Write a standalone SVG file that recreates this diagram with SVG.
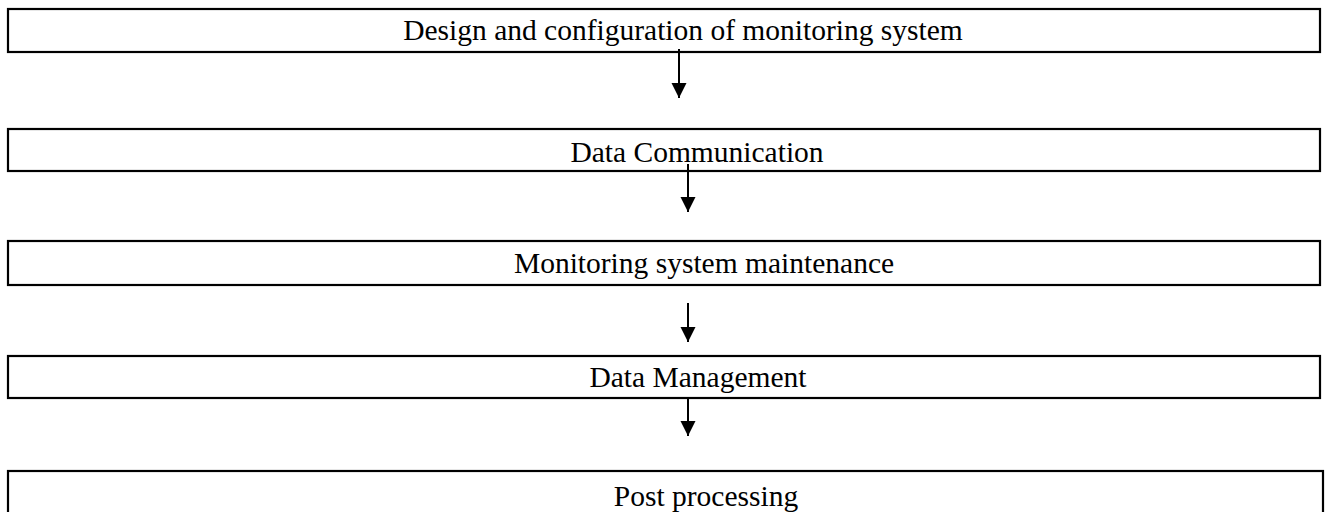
<svg xmlns="http://www.w3.org/2000/svg" width="1325" height="512" viewBox="0 0 1325 512">
<style>
.box{fill:#fff;stroke:#000;stroke-width:2.2}
.lbl{font-family:"Liberation Serif","Times New Roman",serif;font-size:29.5px;fill:#000;text-anchor:middle}
.conn{stroke:#000;stroke-width:2;fill:none;marker-end:url(#ah)}
</style>
<defs>
<marker id="ah" markerUnits="userSpaceOnUse" markerWidth="16" markerHeight="16" viewBox="0 0 16 16" refX="15" refY="8" orient="auto">
<path d="M0,0.5 L15,8 L0,15.5 Z" fill="#000"/>
</marker>
</defs>
<rect width="1325" height="512" fill="#fff"/>
<g id="node1"><rect class="box" x="8" y="9" width="1312" height="43"/><text class="lbl" x="683" y="40">Design and configuration of monitoring system</text></g>
<g id="node2"><rect class="box" x="8" y="129" width="1312" height="42"/><text class="lbl" x="697" y="161.5">Data Communication</text></g>
<g id="node3"><rect class="box" x="8" y="241" width="1312" height="44"/><text class="lbl" x="704" y="273">Monitoring system maintenance</text></g>
<g id="node4"><rect class="box" x="8" y="356" width="1312" height="42"/><text class="lbl" x="698" y="386.5">Data Management</text></g>
<g id="node5"><rect class="box" x="8" y="471" width="1315" height="50"/><text class="lbl" x="706" y="506">Post processing</text></g>
<g id="connectors">
<line class="conn" x1="679" y1="49" x2="679" y2="98"/>
<line class="conn" x1="688" y1="164" x2="688" y2="212"/>
<line class="conn" x1="688" y1="303" x2="688" y2="342"/>
<line class="conn" x1="688" y1="398" x2="688" y2="436"/>
</g>
</svg>
